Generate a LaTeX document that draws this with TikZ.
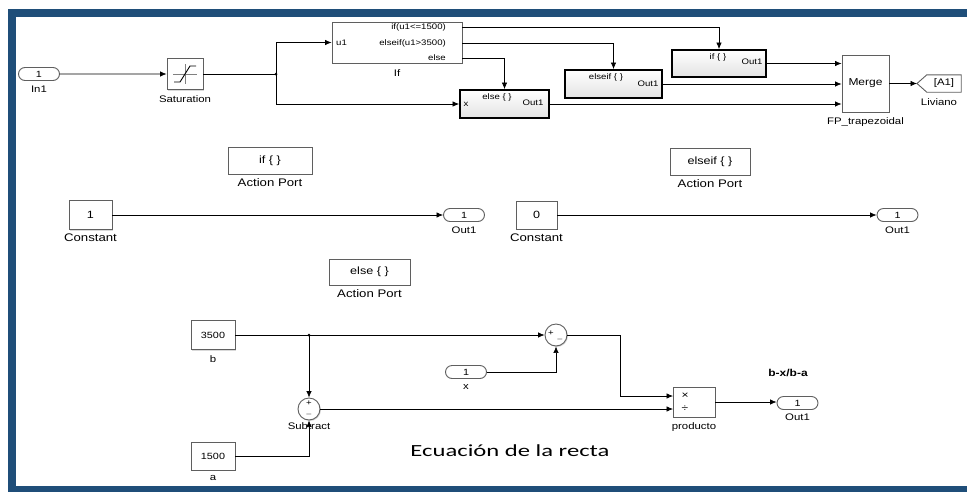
\documentclass[tikz,border=0pt]{standalone}
\usepackage{fontspec}
\setmainfont{Liberation Sans}[FakeStretch=1.2]
\newfontfamily\ecufont{Carlito}[FakeStretch=1.45]
\usepackage{xcolor}
\usepackage{tikz}
\usetikzlibrary{positioning, arrows.meta, shapes.misc, shadows}
\definecolor{FrameBlue}{RGB}{31,78,121}
\definecolor{BlockGray}{RGB}{95,95,95}
\tikzset{
  blk/.style={draw=BlockGray, line width=0.9pt, fill=white, inner sep=0pt, align=center,
    font=\fontsize{9}{10}\selectfont,
    drop shadow={shadow xshift=1.2pt, shadow yshift=-1.2pt, opacity=0.3}},
  subsys/.style={draw=black, line width=1.8pt, inner sep=0pt, top color=white, bottom color=gray!22,
    drop shadow={shadow xshift=1.2pt, shadow yshift=-1.2pt, opacity=0.3}},
  port/.style={rounded rectangle, draw=BlockGray, line width=0.9pt, fill=white, inner sep=0pt,
    minimum width=41pt, minimum height=13pt, font=\fontsize{9}{10}\selectfont},
  sumblk/.style={circle, draw=BlockGray, line width=0.9pt, fill=white, inner sep=0pt, minimum size=22pt,
    drop shadow={shadow xshift=1pt, shadow yshift=-1pt, opacity=0.3}},
  lbl/.style={font=\fontsize{9.5}{10}\selectfont, inner sep=1pt, anchor=north},
  biglbl/.style={lbl, font=\fontsize{11}{12}\selectfont},
  bigtxt/.style={font=\fontsize{10.5}{12}\selectfont},
  intxt/.style={font=\fontsize{8}{9}\selectfont, inner sep=0pt},
  sig/.style={-{Latex[length=6.5pt,width=5.5pt]}, line width=0.7pt},
  wire/.style={line width=0.7pt},
  dot/.style={circle, fill, inner sep=0pt, minimum size=3pt},
}
\begin{document}
\begin{tikzpicture}[x=1pt, y=-1pt]
  \useasboundingbox (0,0) rectangle (967,491);
  \clip (0,0) rectangle (967,491);
  % frame
  \draw[FrameBlue, line width=8pt] (990,13) -- (12,13) -- (12,490) -- (990,490);

  % --- top row: If logic ---
  \node[port] (in1) at (39,74) {1};
  \node[lbl, below=4pt of in1] (in1lbl) {In1};
  \node[blk, minimum width=36pt, minimum height=31pt] (sat) at (185,74) {};
  \draw[line width=0.6pt, gray] ([xshift=-12pt]sat.center) -- ([xshift=12pt]sat.center);
  \draw[line width=0.6pt, gray] ([yshift=10pt]sat.center) -- ([yshift=-10pt]sat.center);
  \draw[line width=0.9pt] ([xshift=-11pt,yshift=-8pt]sat.center) -- ([xshift=-5pt,yshift=-8pt]sat.center)
    -- ([xshift=5pt,yshift=8pt]sat.center) -- ([xshift=11pt,yshift=8pt]sat.center);
  \node[lbl, below=4pt of sat] (satlbl) {Saturation};
  \coordinate (br1) at (276,74);

  \node[blk, minimum width=130pt, minimum height=41pt] (ifb) at (397,42.5) {};
  \node[intxt, anchor=east] (c1) at (446,27) {if(u1<=1500)};
  \node[intxt, anchor=east] (c2) at (446,43) {elseif(u1>3500)};
  \node[intxt, anchor=east] (c3) at (446,58) {else};
  \node[intxt, anchor=west] (u1) at (336,43) {u1};
  \node[lbl, below=5pt of ifb] (iflbl) {If};

  \node[subsys, minimum width=89pt, minimum height=28pt] (elseb) at (504.5,104) {};
  \node[intxt] (elsetxt) at (497,97) {else \{ \}};
  \node[intxt] (elseout) at (533,103) {Out1};
  \node[intxt] (elsex) at (466,104) {x};
  \node[subsys, minimum width=97pt, minimum height=28pt] (elseifb) at (613.5,84) {};
  \node[intxt] (elseiftxt) at (606,77) {elseif \{ \}};
  \node[intxt] (elseifout) at (648,84) {Out1};
  \node[subsys, minimum width=94pt, minimum height=27pt] (ifsub) at (719,63.5) {};
  \node[intxt] (ifsubtxt) at (718,57) {if \{ \}};
  \node[intxt] (ifsubout) at (752,62) {Out1};

  \node[blk, minimum width=47pt, minimum height=57pt, font=\fontsize{10}{11}\selectfont] (merge) at (865.5,83.5) {Merge};
  \node[lbl, below=4pt of merge] (mergelbl) {FP\_trapezoidal};
  \node[minimum width=34pt, minimum height=17pt, inner sep=0pt, font=\fontsize{9.5}{10}\selectfont] (gototag) at (944,83.5) {[A1]};
  \coordinate (gotip) at (917,83.5);
  \draw[BlockGray, line width=0.9pt] (gotip) -- (gototag.north west) -- (gototag.north east)
    -- (gototag.south east) -- (gototag.south west) -- cycle;
  \node[lbl] (livlbl) at (939,97) {Liviano};

  \draw[sig] (in1) -- (sat);
  \draw[wire] (sat) -- (br1);
  \draw[sig] (br1) |- (ifb.west);
  \draw[sig] (br1) |- (elseb.west);
  \draw[sig] (c1 -| ifb.east) -| (ifsub.north);
  \draw[sig] (c2 -| ifb.east) -| (elseifb.north);
  \draw[sig] (c3 -| ifb.east) -| (elseb.north);
  \draw[sig] (ifsub.east) -- (ifsub.east -| merge.west);
  \draw[sig] (elseifb.east) -- (elseifb.east -| merge.west);
  \draw[sig] (elseb.east) -- (elseb.east -| merge.west);
  \draw[sig] (merge) -- (gotip);
  \node[dot] (br1dot) at (br1) {};

  % --- action subsystems contents ---
  \node[blk, bigtxt, minimum width=84pt, minimum height=27pt] (actif) at (270,160.5) {if \{ \}};
  \node[biglbl, below=3pt of actif] (actiflbl) {Action Port};
  \node[blk, bigtxt, minimum width=43pt, minimum height=29pt] (const1) at (90.5,215) {1};
  \node[biglbl, below=3pt of const1] (const1lbl) {Constant};
  \node[port] (outa) at (464,215) {1};
  \node[lbl, below=4pt of outa] (outalbl) {Out1};
  \draw[sig] (const1) -- (outa);

  \node[blk, bigtxt, minimum width=81pt, minimum height=26pt] (actelse) at (369.5,272) {else \{ \}};
  \node[biglbl, below=3pt of actelse] (actelselbl) {Action Port};

  \node[blk, bigtxt, minimum width=80pt, minimum height=27pt] (actelseif) at (710,161.5) {elseif \{ \}};
  \node[biglbl, below=3pt of actelseif] (actelseiflbl) {Action Port};
  \node[blk, bigtxt, minimum width=41pt, minimum height=28pt] (const0) at (536.5,215) {0};
  \node[biglbl, below=3pt of const0] (const0lbl) {Constant};
  \node[port] (outb) at (897.5,215) {1};
  \node[lbl, below=4pt of outb] (outblbl) {Out1};
  \draw[sig] (const0) -- (outb);

  % --- line equation ---
  \node[blk, minimum width=44pt, minimum height=29pt] (cb) at (213,335) {3500};
  \node[lbl, below=4pt of cb] (cblbl) {b};
  \node[blk, minimum width=44pt, minimum height=28pt] (ca) at (213,456) {1500};
  \node[lbl, below=4pt of ca] (calbl) {a};
  \coordinate (br2) at (309,335);
  \node[sumblk] (sub) at (309,409) {};
  \node[intxt] (subp) at (309,403) {+};
  \node[intxt] (subm) at (309,414) {$-$};
  \node[sumblk] (sum) at (556,335) {};
  \node[intxt] (sump) at (551,333) {+};
  \node[intxt] (summ) at (560,339) {$-$};
  \node[port] (xin) at (466,372) {1};
  \node[lbl, below=4pt of xin] (xinlbl) {x};
  \node[blk, minimum width=42pt, minimum height=30pt] (prod) at (694,402) {};
  \node[intxt, font=\fontsize{10}{11}\selectfont] (ptimes) at (685,396) {×};
  \node[intxt, font=\fontsize{10}{11}\selectfont] (pdiv) at (685,409) {÷};
  \coordinate (pin1) at (673,396);
  \coordinate (pin2) at (673,409);
  \node[lbl, below=4pt of prod] (prodlbl) {producto};
  \node[port] (outc) at (797.5,403) {1};
  \node[lbl, below=3pt of outc] (outclbl) {Out1};
  \node[font=\bfseries\fontsize{10}{11}\selectfont] (bxba) at (788,373) {b-x/b-a};

  \draw[wire] (cb) -- (br2);
  \draw[sig] (br2) -- (sum.west);
  \draw[sig] (br2) -- (sub.north);
  \draw[sig] (ca) -| (sub.south);
  \draw[sig] (xin) -| (sum.south);
  \draw[sig] (sum.east) -- ++(53,0) |- (pin1);
  \draw[sig] (sub.east) -- (pin2);
  \draw[sig] (prod.east) -- (prod.east -| outc.west);
  \node[dot] (br2dot) at (br2) {};
  \node[lbl, below=1pt of sub] (sublbl) {Subtract};

  \node[font=\ecufont\fontsize{17}{19}\selectfont] (ecu) at (510,451) {Ecuación de la recta};
\end{tikzpicture}
\end{document}
